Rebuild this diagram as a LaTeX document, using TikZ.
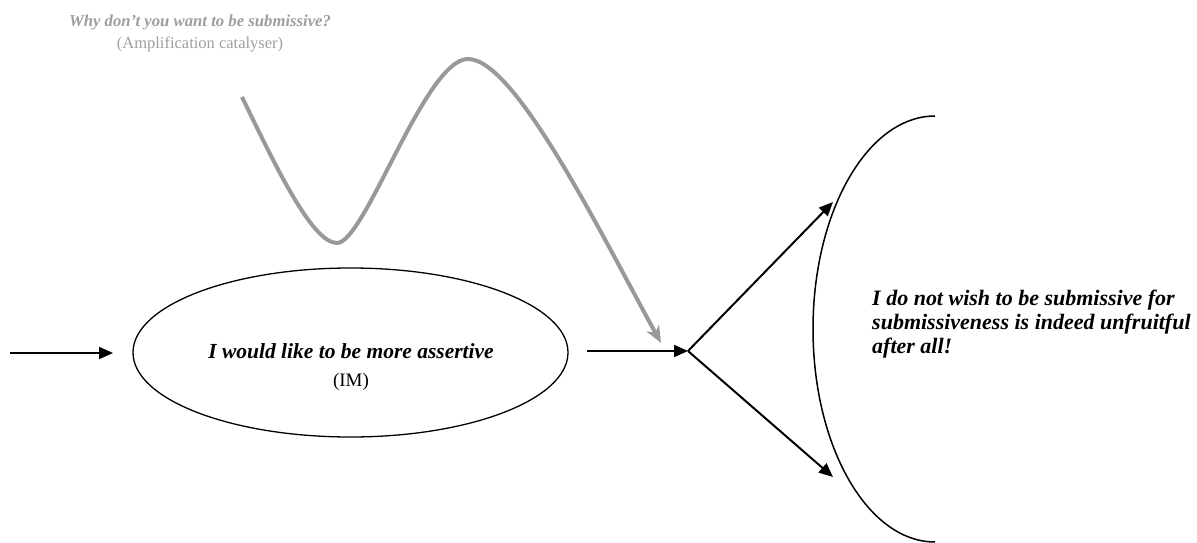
\documentclass[tikz,border=0pt]{standalone}
\usepackage{fontspec}
\setmainfont{Liberation Serif}
\usetikzlibrary{arrows.meta,shapes.geometric}
\definecolor{curvegray}{HTML}{999999}
\definecolor{textgray}{HTML}{9E9E9E}
\begin{document}
\begin{tikzpicture}[x=1pt,y=-1pt,
  arr/.style={line width=2pt,-{Triangle[length=14pt,width=12pt]}},
  catcurve/.style={line width=4pt,curvegray,-{Stealth[length=17pt,width=14pt,inset=5pt]}},
  boldit/.style={font=\fontsize{21.5}{28}\selectfont\bfseries\itshape}
]
\useasboundingbox (0,0) rectangle (1197,543);

% top label
\node[align=center, text=textgray, inner sep=0, font=\fontsize{16.5}{22}\selectfont] (cat) at (200,33)
  {{\fontsize{16.7}{22}\selectfont\bfseries\itshape Why don’t you want to be submissive?}\\(Amplification catalyser)};

% ellipse
\node[draw, ellipse, line width=1.3pt, minimum width=435pt, minimum height=169pt, inner sep=0] (im) at (350.5,352.5) {};
\node[align=center, inner sep=0, font=\fontsize{19}{28}\selectfont] (imtext) at (351,367)
  {{\fontsize{21.5}{28}\selectfont\bfseries\itshape I would like to be more assertive}\\(IM)};

% right label
\node[align=left, anchor=west, inner sep=0, font=\fontsize{22}{24}\selectfont\bfseries\itshape] (res) at (872,324)
  {I do not wish to be submissive for\\submissiveness is indeed unfruitful\\after all!};

% big half ellipse
\draw[line width=1.5pt] (935,116) coordinate (arctop) arc[start angle=270, end angle=90, x radius=122, y radius=213] coordinate (arcbot);

% coordinates
\coordinate (in) at (10,353);
\coordinate (intip) at (113,353);
\coordinate (out) at (587,351);
\coordinate (j) at (688,351);
\coordinate (up) at (833,202);
\coordinate (down) at (833,477);
\coordinate (g0) at (242,97);
\coordinate (gmin) at (337,243);
\coordinate (gmax) at (468,59);
\coordinate (gtip) at (661,343);

% arrows
\draw[arr] (in) -- (intip);
\draw[arr] (out) -- (j);
\draw[arr] (j) -- (up);
\draw[arr] (j) -- (down);

% grey curve
\draw[catcurve] (g0) .. controls (275,165) and (312,243) .. (gmin)
  .. controls (365,243) and (425,59) .. (gmax)
  .. controls (515,59) and (600,232) .. (gtip);
\end{tikzpicture}
\end{document}
